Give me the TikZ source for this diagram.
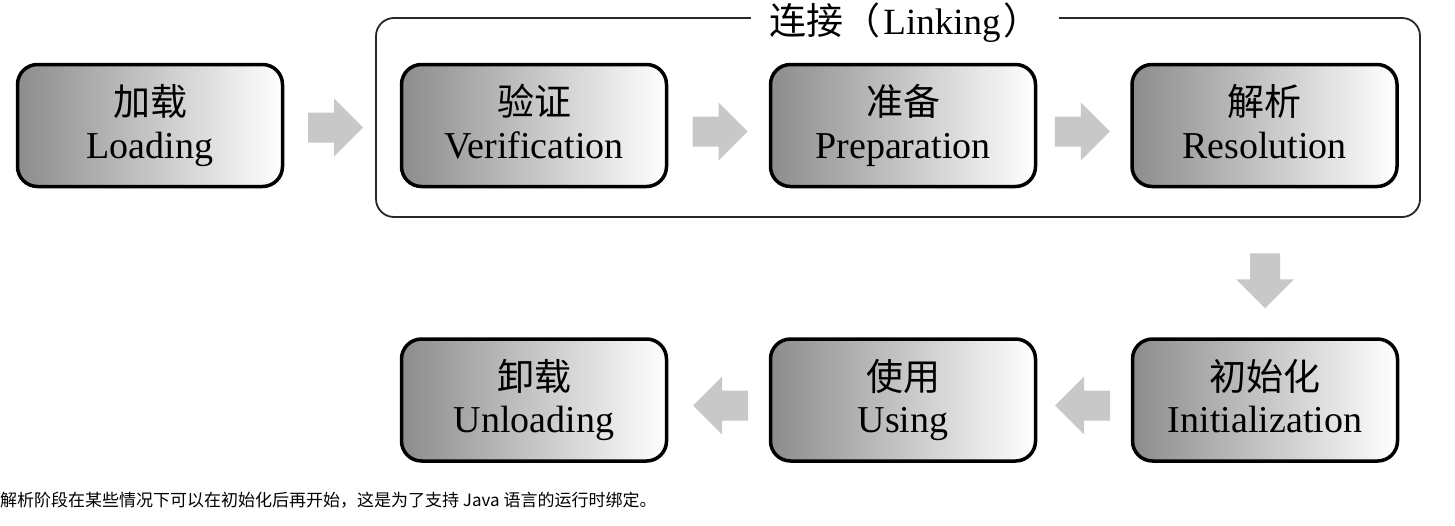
\documentclass[tikz,border=0pt]{standalone}
\usepackage{fontspec}
\setmainfont{Liberation Serif}
\newfontfamily\cjk{Noto Sans CJK SC}
\usetikzlibrary{calc}
\definecolor{arrowgray}{RGB}{200,200,200}
\definecolor{boxleft}{RGB}{140,140,140}
\definecolor{framecol}{RGB}{40,40,40}
\tikzset{
  stagebox/.style={draw=black, line width=3.5pt, rounded corners=20pt,
    minimum width=265pt, minimum height=122pt, inner sep=0pt,
    left color=boxleft, right color=white},
  cnlab/.style={anchor=base, inner sep=0pt, font=\cjk\fontsize{37}{37}\selectfont},
  enlab/.style={anchor=base, inner sep=0pt, font=\fontsize{38}{38}\selectfont},
  linkframe/.style={draw=framecol, line width=1.8pt, rounded corners=18pt,
    minimum width=1044pt, minimum height=199pt, inner sep=0pt},
  linktitle/.style={anchor=base, fill=white, inner xsep=18pt, inner ysep=2pt,
    font=\fontsize{37}{37}\selectfont},
  flowarrow/.pic={\fill[arrowgray] (-27.5,-15) -- (-1.5,-15) -- (-1.5,-29) -- (27.5,0)
     -- (-1.5,29) -- (-1.5,15) -- (-27.5,15) -- cycle;}
}
\newcommand\stage[4]{%
  \node[stagebox] (#1) at (#2) {};
  \node[cnlab] (#1-cn) at ($(#1.center)+(0,-10)$) {#3};
  \node[enlab] (#1-en) at ($(#1.center)+(0,32.5)$) {#4};
}
\begin{document}
\begin{tikzpicture}[x=1pt,y=-1pt]
\useasboundingbox[fill=white] (0,0) rectangle (1455,525);
% linking frame
\node[linkframe] (link) at (898,117.5) {};
\node[linktitle] (linkname) at (905,34) {{\cjk 连接（}\hspace{3pt}Linking\hspace{3pt}{\cjk ）}};
% stages
\stage{load}{150,125.5}{加载}{Loading}
\stage{verify}{534,125.5}{验证}{Verification}
\stage{prep}{903,125.5}{准备}{Preparation}
\stage{resol}{1264.5,125.5}{解析}{Resolution}
\stage{init}{1265,400}{初始化}{Initialization}
\stage{using}{903,400}{使用}{Using}
\stage{unload}{534,400}{卸载}{Unloading}
% arrows
\pic at ($($(load.east)!0.5!(link.west)$)+(6,6)$) {flowarrow};
\pic at ($($(verify.east)!0.5!(prep.west)$)+(1.5,6)$) {flowarrow};
\pic at ($($(prep.east)!0.5!(resol.west)$)+(-1.5,6)$) {flowarrow};
\pic[rotate=-90] at ($(init.north)+(0,-56.5)$) {flowarrow};
\pic[rotate=180] at ($($(init.west)!0.5!(using.east)$)+(-1.5,5.5)$) {flowarrow};
\pic[rotate=180] at ($($(using.west)!0.5!(unload.east)$)+(2,5.5)$) {flowarrow};
% caption
\node[anchor=base west, inner sep=0pt, font=\cjk\fontsize{17}{17}\selectfont] (caption) at (0,506)
  {解析阶段在某些情况下可以在初始化后再开始，这是为了支持 Java 语言的运行时绑定。};
\end{tikzpicture}
\end{document}
